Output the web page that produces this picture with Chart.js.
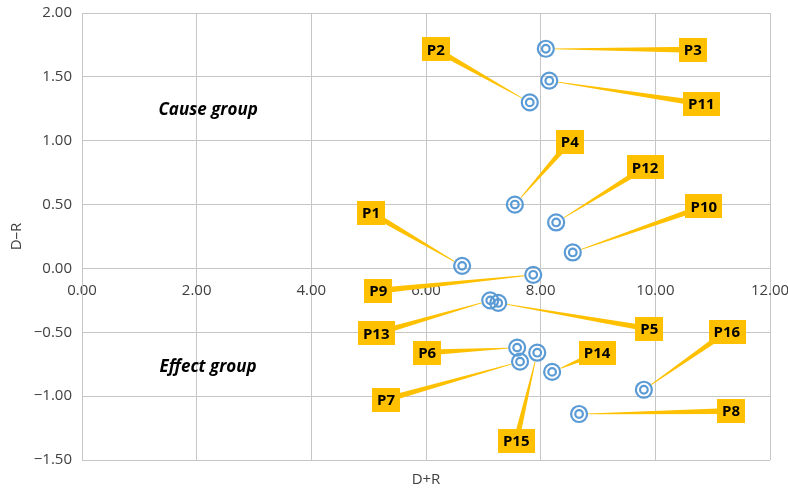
<!DOCTYPE html>
<html>
<head>
<meta charset="utf-8">
<script src="https://cdn.jsdelivr.net/npm/chart.js@4"></script>
<style>
  html, body { margin: 0; padding: 0; background: #fff; }
  #wrap { width: 788px; height: 494px; }
</style>
</head>
<body>
<div id="wrap"><canvas id="chart" width="788" height="494"></canvas></div>
<script>
// data
const factors = ['P1','P2','P3','P4','P5','P6','P7','P8','P9','P10','P11','P12','P13','P14','P15','P16'];
const dPlusR  = [6.63, 7.81, 8.09, 7.55, 7.26, 7.59, 7.64, 8.67, 7.87, 8.56, 8.15, 8.27, 7.12, 8.20, 7.94, 9.80];
const dMinusR = [0.02, 1.30, 1.72, 0.50, -0.27, -0.62, -0.73, -1.14, -0.05, 0.125, 1.47, 0.36, -0.25, -0.81, -0.66, -0.95];
const xTicks = [0, 2, 4, 6, 8, 10, 12];
const yTicks = [-1.5, -1, -0.5, 0, 0.5, 1, 1.5, 2];
const groupNames = ['Cause group', 'Effect group'];

// where each callout box sits, relative to its point (px)
const calloutOffsets = [
  [-91, -53], [-94, -53], [147, 1], [55, -63], [151, 26], [-90, 5], [-134, 38], [152, -3],
  [-155, 16], [131, -46], [152, 23], [89, -55], [-114, 33], [45, -19], [-21, 88], [83, -58]
];
const groupPos = [[2.2, 1.24], [2.2, -0.77]];

const pts = factors.map((f, i) => ({ x: dPlusR[i], y: dMinusR[i] }));
const fmt = v => (v < 0 ? '\u2212' : '') + Math.abs(v).toFixed(2);
const blue = '#5B9BD5';
const gold = '#FFC000';
const gridCol = '#c6c6c6';

const calloutPlugin = {
  id: 'callouts',
  afterDatasetsDraw(chart) {
    const ctx = chart.ctx;
    const xs = chart.scales.x, ys = chart.scales.y;
    ctx.save();
    // group captions
    ctx.font = 'italic bold 17px "Open Sans"';
    ctx.fillStyle = '#000';
    ctx.textAlign = 'center';
    ctx.textBaseline = 'middle';
    groupNames.forEach((g, i) => {
      ctx.fillText(g, xs.getPixelForValue(groupPos[i][0]), ys.getPixelForValue(groupPos[i][1]));
    });
    // leader lines + boxes
    ctx.font = 'bold 15px "Open Sans"';
    factors.forEach((f, i) => {
      const px = xs.getPixelForValue(dPlusR[i]);
      const py = ys.getPixelForValue(dMinusR[i]);
      const lx = px + calloutOffsets[i][0];
      const ly = py + calloutOffsets[i][1];
      const dx = lx - px, dy = ly - py;
      const len = Math.hypot(dx, dy);
      const ux = dx / len, uy = dy / len;
      const nx = -uy, ny = ux;
      const sx = px + ux * 9, sy = py + uy * 9;
      ctx.fillStyle = gold;
      ctx.beginPath();
      ctx.moveTo(sx + nx * 0.4, sy + ny * 0.4);
      ctx.lineTo(lx + nx * 3, ly + ny * 3);
      ctx.lineTo(lx - nx * 3, ly - ny * 3);
      ctx.lineTo(sx - nx * 0.4, sy - ny * 0.4);
      ctx.closePath();
      ctx.fill();
      const w = ctx.measureText(f).width + 10;
      const h = 24;
      ctx.fillRect(Math.round(lx - w / 2), Math.round(ly - h / 2), Math.round(w), h);
      ctx.fillStyle = '#000';
      ctx.fillText(f, lx, ly + 1);
    });
    // x axis title at the bottom
    ctx.font = '15px "Open Sans"';
    ctx.fillStyle = '#404040';
    ctx.fillText('D+R', (chart.chartArea.left + chart.chartArea.right) / 2, 480);
    ctx.restore();
  }
};

const ctx = document.getElementById('chart').getContext('2d');
new Chart(ctx, {
  type: 'scatter',
  data: {
    datasets: [{
      label: 'outer',
      data: pts,
      pointRadius: 8,
      pointHoverRadius: 8,
      borderWidth: 2.2,
      borderColor: blue,
      backgroundColor: 'rgba(0,0,0,0)'
    }, {
      label: 'inner',
      data: pts,
      pointRadius: 3.8,
      pointHoverRadius: 3.8,
      borderWidth: 2.2,
      borderColor: blue,
      backgroundColor: 'rgba(0,0,0,0)'
    }]
  },
  options: {
    responsive: false,
    animation: false,
    events: [],
    layout: { padding: { top: 13, right: 18, bottom: 34, left: 0 } },
    plugins: { legend: { display: false }, tooltip: { enabled: false } },
    scales: {
      x: {
        type: 'linear',
        position: { y: 0 },
        min: 0, max: 12,
        afterBuildTicks: s => { s.ticks = xTicks.map(v => ({ value: v })); },
        afterFit: s => { s.height = 0; s.paddingLeft = 0; s.paddingRight = 0; },
        grid: { color: gridCol, lineWidth: 1, drawTicks: false },
        border: { color: gridCol },
        ticks: { callback: v => fmt(v), color: '#404040', padding: 13, maxRotation: 0,
                 font: { family: 'Open Sans', size: 15 } }
      },
      y: {
        type: 'linear',
        position: 'left',
        min: -1.5, max: 2,
        afterBuildTicks: s => { s.ticks = yTicks.map(v => ({ value: v })); },
        afterFit: s => { s.width = 82; s.paddingTop = 0; s.paddingBottom = 0; },
        grid: { color: gridCol, lineWidth: 1, drawTicks: false },
        border: { color: gridCol },
        title: { display: true, text: 'D\u2013R', color: '#404040', padding: 8,
                 font: { family: 'Open Sans', size: 15 } },
        ticks: { callback: v => fmt(v), color: '#404040', padding: 10,
                 font: { family: 'Open Sans', size: 15 } }
      }
    }
  },
  plugins: [calloutPlugin]
});
</script>
</body>
</html>
